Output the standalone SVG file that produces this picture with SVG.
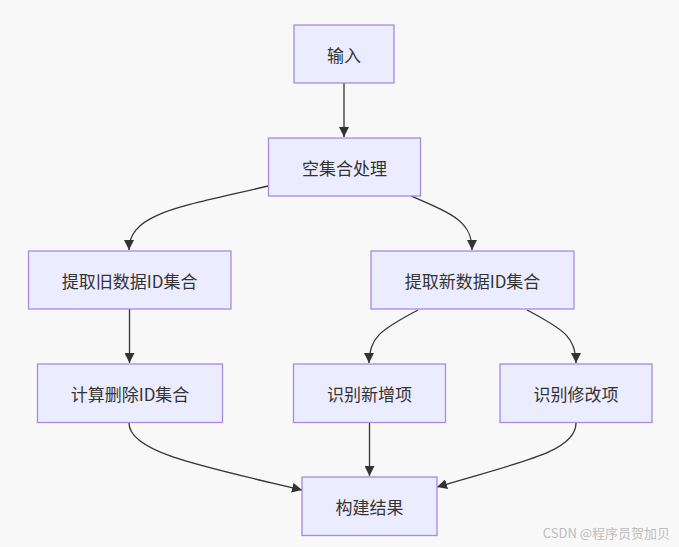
<svg xmlns="http://www.w3.org/2000/svg" width="679" height="547" viewBox="0 0 679 547">
<defs>
<style>
.node rect{fill:#ECECFF;stroke:#A78BDF;stroke-width:1.3}
.node text{font-family:"Noto Sans CJK SC","Noto Sans",sans-serif;font-size:17px;fill:#333;text-anchor:middle;dominant-baseline:central}
.edges path{fill:none;stroke:#333;stroke-width:1.3;marker-end:url(#arrow)}
.wm{font-family:"Noto Sans CJK SC","Noto Sans",sans-serif;font-size:13px;fill:#BDBDBD;text-anchor:end}
</style>
<marker id="arrow" viewBox="0 0 10 10" refX="10" refY="5" markerWidth="10" markerHeight="10" markerUnits="userSpaceOnUse" orient="auto">
<path d="M0,0 L10,5 L0,10 z" fill="#333"/>
</marker>
</defs>
<rect width="679" height="547" fill="#F8F8F8"/>
<g class="edges">
<path d="M344,83 L344,137"/>
<path d="M268,186 C180,207 129,213 129,250"/>
<path d="M411,196 C455,215 472,222 472,250"/>
<path d="M129.5,309 L129.5,363"/>
<path d="M418,310 C380,330 369,338 369,363"/>
<path d="M527,310 C565,330 576,338 576,363"/>
<path d="M129,423 C129,452 200,466 302,490"/>
<path d="M369.5,423 L369.5,476"/>
<path d="M576,423 C576,452 520,462 437,487"/>
</g>
<g id="n-input" class="node"><rect x="294" y="25" width="100" height="58"/><text x="344" y="54">输入</text></g>
<g id="n-empty" class="node"><rect x="268.5" y="138" width="152" height="58"/><text x="344.5" y="167">空集合处理</text></g>
<g id="n-old" class="node"><rect x="28.5" y="251" width="202.5" height="58"/><text x="129.7" y="280">提取旧数据ID集合</text></g>
<g id="n-new" class="node"><rect x="371" y="251" width="203" height="58"/><text x="472.5" y="280">提取新数据ID集合</text></g>
<g id="n-del" class="node"><rect x="37.5" y="364" width="185" height="58.5"/><text x="130" y="393">计算删除ID集合</text></g>
<g id="n-add" class="node"><rect x="293.5" y="364" width="152" height="58.5"/><text x="369.5" y="393">识别新增项</text></g>
<g id="n-mod" class="node"><rect x="500" y="364" width="152" height="58.5"/><text x="576" y="393">识别修改项</text></g>
<g id="n-result" class="node"><rect x="302" y="477" width="135" height="58.5"/><text x="369.5" y="506">构建结果</text></g>
<text class="wm" x="670" y="538">CSDN @程序员贺加贝</text>
</svg>
